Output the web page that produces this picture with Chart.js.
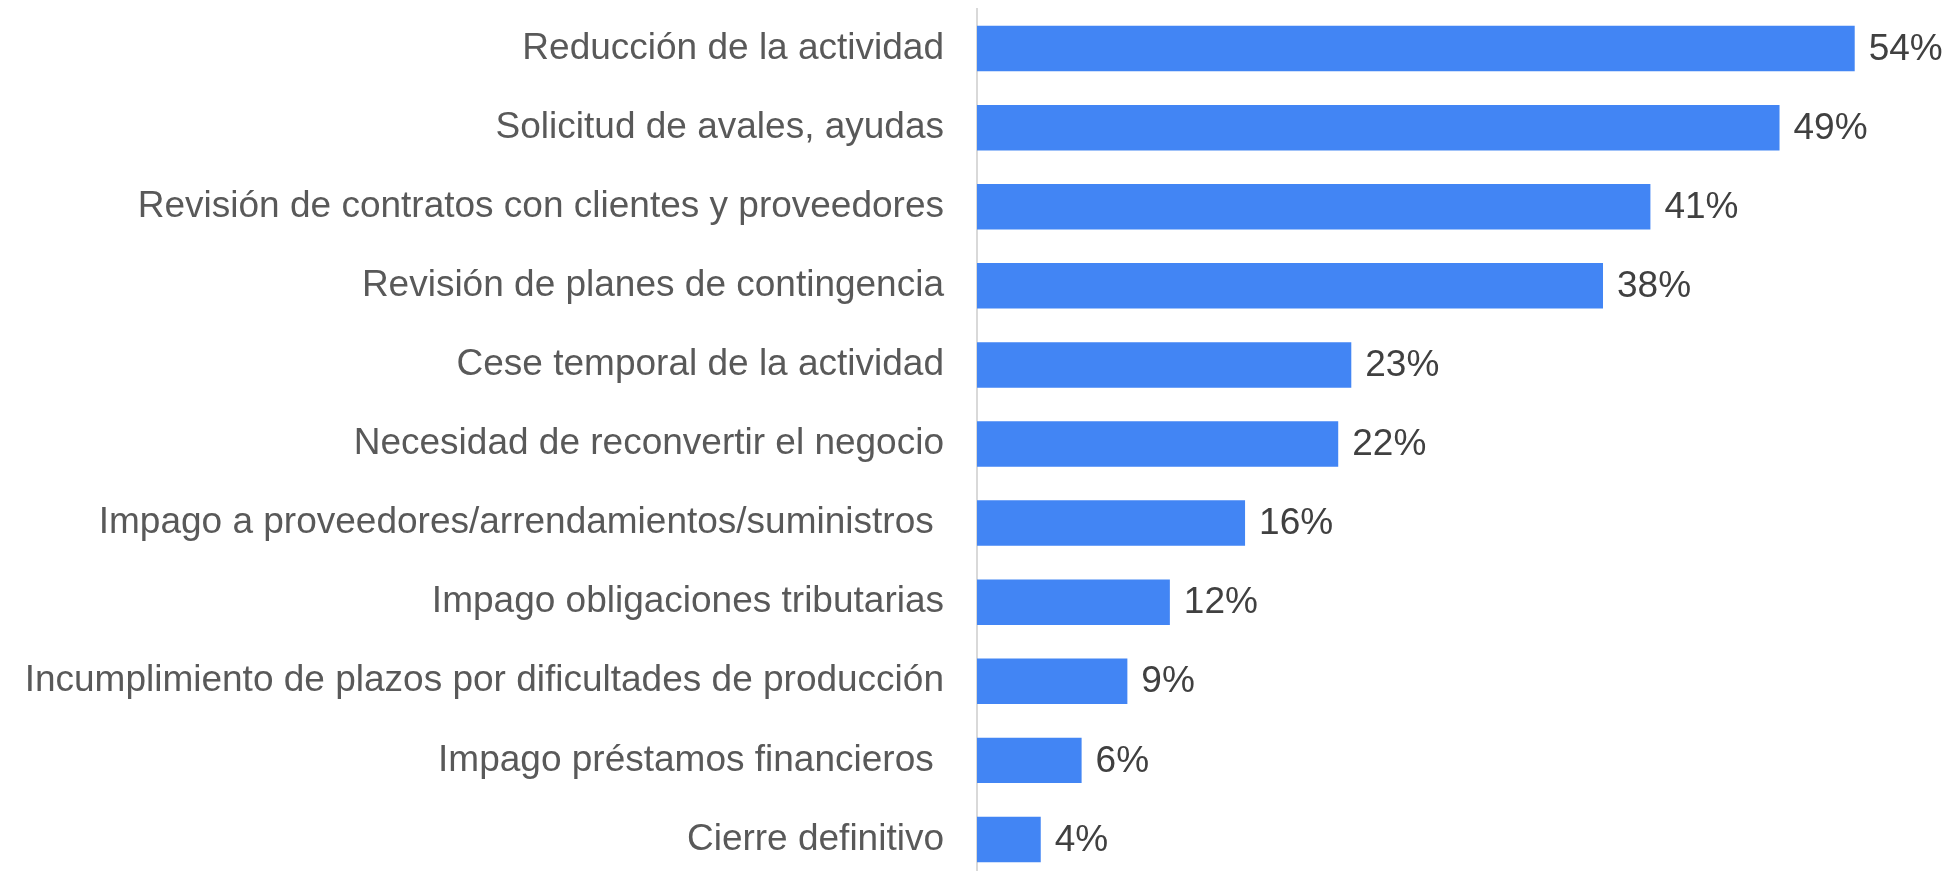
<!DOCTYPE html>
<html>
<head>
<meta charset="utf-8">
<script src="https://cdn.jsdelivr.net/npm/chart.js@4/dist/chart.umd.min.js"></script>
<style>
  html, body { margin: 0; padding: 0; background: #ffffff; overflow: hidden; }
  #wrap { position: relative; width: 1949px; height: 880px; }
</style>
</head>
<body>
<div id="wrap"><canvas id="myChart"></canvas></div>
<script>
// categories and values (percent)
var categories = [
    "Reducción de la actividad",
    "Solicitud de avales, ayudas",
    "Revisión de contratos con clientes y proveedores",
    "Revisión de planes de contingencia",
    "Cese temporal de la actividad",
    "Necesidad de reconvertir el negocio",
    "Impago a proveedores/arrendamientos/suministros ",
    "Impago obligaciones tributarias",
    "Incumplimiento de plazos por dificultades de producción",
    "Impago préstamos financieros ",
    "Cierre definitivo"
];
var values = [53.7, 49.1, 41.2, 38.3, 22.9, 22.1, 16.4, 11.8, 9.2, 6.4, 3.9];

var barColor = "#4285f4";
var fontName = "'Liberation Sans', Arial, sans-serif";

// draws "54%" style labels at the end of each bar
var valueLabels = {
    id: "valueLabels",
    afterDatasetsDraw: function (chart) {
        var ctx = chart.ctx;
        var meta = chart.getDatasetMeta(0);
        ctx.save();
        ctx.font = "37px " + fontName;
        ctx.fillStyle = "#404040";
        ctx.textAlign = "left";
        ctx.textBaseline = "middle";
        meta.data.forEach(function (bar, i) {
            ctx.fillText(Math.round(values[i]) + "%", bar.x + 14, bar.y + 1);
        });
        ctx.restore();
    }
};

new Chart("myChart", {
    type: "bar",
    data: {
        labels: categories,
        datasets: [{
            data: values,
            backgroundColor: barColor,
            borderWidth: 0,
            categoryPercentage: 1,
            barPercentage: 0.575
        }]
    },
    options: {
        indexAxis: "y",
        responsive: true,
        maintainAspectRatio: false,
        animation: false,
        layout: { padding: { top: 9, bottom: 1, right: 24, left: 0 } },
        plugins: {
            legend: { display: false },
            tooltip: { enabled: false }
        },
        scales: {
            x: {
                display: false,
                min: 0,
                max: 58
            },
            y: {
                grid: { display: false, drawTicks: false },
                border: { display: true, color: "#d9d9d9", width: 2 },
                ticks: {
                    color: "#595959",
                    padding: 33,
                    font: { family: fontName, size: 37 }
                },
                afterFit: function (scale) {
                    scale.width = 977;
                    scale.paddingTop = 0;
                    scale.paddingBottom = 0;
                }
            }
        }
    },
    plugins: [valueLabels]
});
</script>
</body>
</html>
